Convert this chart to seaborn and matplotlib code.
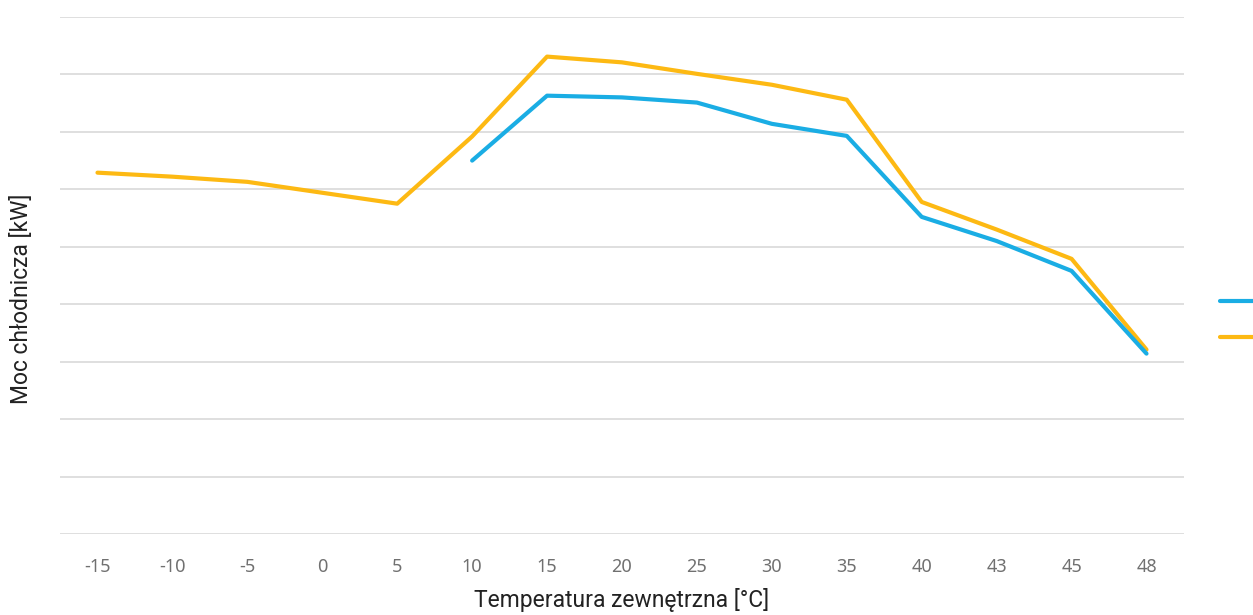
import pandas as pd
import numpy as np
import seaborn as sns
import matplotlib.pyplot as plt
from matplotlib.lines import Line2D

# dane (jednostki siatki)
temps = ["-15", "-10", "-5", "0", "5", "10", "15", "20", "25", "30", "35", "40", "43", "45", "48"]
moc_zolta = [6.29, 6.22, 6.13, 5.94, 5.75, 6.92, 8.31, 8.21, 8.01, 7.82, 7.56, 5.78, 5.30, 4.79, 3.21]
moc_niebieska = [np.nan, np.nan, np.nan, np.nan, np.nan, 6.50, 7.63, 7.60, 7.51, 7.14, 6.93, 5.52, 5.10, 4.58, 3.14]
serie = ["seria_1", "seria_2"]
kolory = ["#1AADE4", "#FDB913"]

df = pd.DataFrame({
    "temp": temps * 2,
    "moc": moc_niebieska + moc_zolta,
    "seria": [serie[0]] * len(temps) + [serie[1]] * len(temps),
})

sns.set_style("white")
plt.rcParams['font.family'] = ['Roboto', 'DejaVu Sans']

fig = plt.figure(figsize=(12.53, 6.15), dpi=100)
ax = fig.add_axes([0.0479, 0.1317, 0.8970, 0.8407])

sns.lineplot(data=df, x="temp", y="moc", hue="seria", hue_order=serie[::-1],
             palette=dict(zip(serie, kolory)), sort=False, linewidth=3,
             legend=False, ax=ax, solid_capstyle="round")

ax.set_xlim(-0.5, len(temps) - 0.5)
ax.set_ylim(0, 9)
ax.set_yticks(np.arange(0, 10, 1))
ax.set_yticklabels([])
ax.tick_params(axis="y", length=0)
ax.tick_params(axis="x", length=0, pad=17, labelsize=13, labelcolor="#707070")
for lab in ax.get_xticklabels():
    lab.set_family("Noto Sans")
    lab.set_stretch("condensed")
ax.grid(axis="y", color="#DCDCDC", linewidth=1.3)
ax.set_axisbelow(True)
sns.despine(ax=ax, left=True, bottom=True)

ax.set_xlabel("Temperatura zewnętrzna [°C]", fontsize=16.5, fontweight="normal", color="#222222")
ax.set_ylabel("Moc chłodnicza [kW]", fontsize=16.5, fontweight="normal", color="#222222")
ax.xaxis.set_label_coords(0.5, -0.105)
ax.yaxis.set_label_coords(-0.024, 0.455)

uchwyty = [Line2D([0], [0], color=k, linewidth=3, solid_capstyle="round") for k in kolory]
fig.legend(uchwyty, ["", ""], loc="center left", bbox_to_anchor=(0.968, 0.48),
           frameon=False, handlelength=2.5, labelspacing=1.6, borderpad=0, handletextpad=0.2)

fig.savefig("out.png", dpi=100)
